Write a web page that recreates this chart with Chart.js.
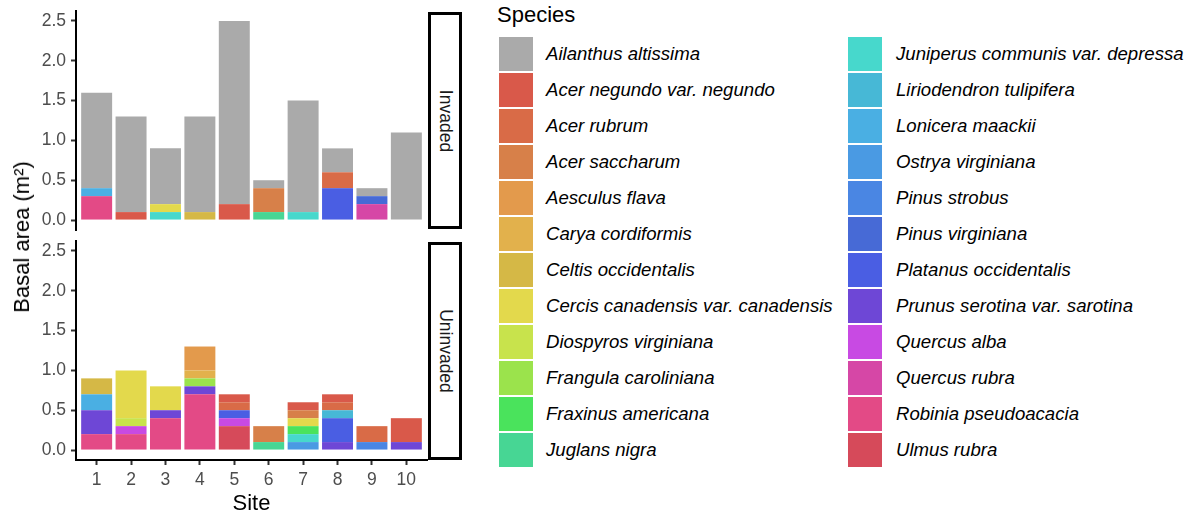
<!DOCTYPE html>
<html>
<head>
<meta charset="utf-8">
<script src="https://cdn.jsdelivr.net/npm/chart.js@4.4.1/dist/chart.umd.min.js"></script>
<style>
  body { margin: 0; background: #fff; width: 1193px; height: 518px; position: relative; overflow: hidden;
         font-family: "Liberation Sans", Arial, sans-serif; }
  canvas { position: absolute; left: 0; }
  #top { top: -5px; }
  #bottom { top: 225px; }
  .strip { position: absolute; left: 428px; width: 28px; border: 3px solid #000; background: #fff; }
  .strip span { position: absolute; left: 50%; top: 50%; transform: translate(-50%, -50%) rotate(90deg);
                font-size: 17.5px; color: #1a1a1a; white-space: nowrap; }
  #ytitle { position: absolute; left: 22px; top: 237px; transform: translate(-50%, -50%) rotate(-90deg);
            font-size: 22px; color: #000; white-space: nowrap; }
  #legend { position: absolute; left: 0; top: 0; }
  #legend .ttl { position: absolute; left: 497px; top: 2px; font-size: 22px; color: #000; }
  #legend .key { position: absolute; width: 34px; height: 34px; }
  #legend .lab { position: absolute; font-size: 18.6px; font-style: italic; color: #000; white-space: nowrap;
                 line-height: 34px; }
</style>
</head>
<body>
<canvas id="top" width="428" height="251"></canvas>
<canvas id="bottom" width="428" height="293"></canvas>
<div class="strip" style="top:12px;height:211px"><span>Invaded</span></div>
<div class="strip" style="top:242px;height:212px"><span>Uninvaded</span></div>
<div id="ytitle">Basal area (m²)</div>
<div id="legend"><div class="ttl">Species</div></div>

<script>
const sites = [1, 2, 3, 4, 5, 6, 7, 8, 9, 10]
const yTicks = [0, 0.5, 1, 1.5, 2, 2.5]

const species = [
  'Ailanthus altissima', 'Acer negundo var. negundo', 'Acer rubrum', 'Acer saccharum',
  'Aesculus flava', 'Carya cordiformis', 'Celtis occidentalis', 'Cercis canadensis var. canadensis',
  'Diospyros virginiana', 'Frangula caroliniana', 'Fraxinus americana', 'Juglans nigra',
  'Juniperus communis var. depressa', 'Liriodendron tulipifera', 'Lonicera maackii', 'Ostrya virginiana',
  'Pinus strobus', 'Pinus virginiana', 'Platanus occidentalis', 'Prunus serotina var. sarotina',
  'Quercus alba', 'Quercus rubra', 'Robinia pseudoacacia', 'Ulmus rubra'
]

const speciesColors = [
  '#aaaaaa', '#d9594a', '#d96b47', '#d78049',
  '#e39a4c', '#e2b14c', '#d5b846', '#e3d94c',
  '#c8e34c', '#9be34c', '#4ae35c', '#47d694',
  '#47d8cc', '#47b8d6', '#4aafe3', '#4a9ae3',
  '#4a86e3', '#476ad6', '#4a5ee3', '#6e47d6',
  '#c84ae3', '#d647a6', '#e34a86', '#d64a5a'
]

// basal area per species (rows, same order as species) and site (columns)
const invaded = [
  [1.2, 1.2, 0.7, 1.2, 2.3, 0.1, 1.4, 0.3, 0.1, 1.1], // Ailanthus altissima
  [0, 0.1, 0, 0, 0.2, 0, 0, 0, 0, 0],
  [0, 0, 0, 0, 0, 0, 0, 0.2, 0, 0],
  [0, 0, 0, 0, 0, 0.3, 0, 0, 0, 0],
  [0, 0, 0, 0, 0, 0, 0, 0, 0, 0],
  [0, 0, 0, 0, 0, 0, 0, 0, 0, 0],
  [0, 0, 0, 0.1, 0, 0, 0, 0, 0, 0],   // Celtis
  [0, 0, 0.1, 0, 0, 0, 0, 0, 0, 0],   // Cercis
  [0, 0, 0, 0, 0, 0, 0, 0, 0, 0],
  [0, 0, 0, 0, 0, 0, 0, 0, 0, 0],
  [0, 0, 0, 0, 0, 0, 0, 0, 0, 0],
  [0, 0, 0, 0, 0, 0.1, 0, 0, 0, 0],   // Juglans
  [0, 0, 0.1, 0, 0, 0, 0.1, 0, 0, 0], // Juniperus
  [0, 0, 0, 0, 0, 0, 0, 0, 0, 0],
  [0.1, 0, 0, 0, 0, 0, 0, 0, 0, 0],   // Lonicera
  [0, 0, 0, 0, 0, 0, 0, 0, 0, 0],
  [0, 0, 0, 0, 0, 0, 0, 0, 0, 0],
  [0, 0, 0, 0, 0, 0, 0, 0, 0.1, 0],   // Pinus virginiana
  [0, 0, 0, 0, 0, 0, 0, 0.4, 0, 0],   // Platanus
  [0, 0, 0, 0, 0, 0, 0, 0, 0, 0],
  [0, 0, 0, 0, 0, 0, 0, 0, 0, 0],
  [0, 0, 0, 0, 0, 0, 0, 0, 0.2, 0],   // Quercus rubra
  [0.3, 0, 0, 0, 0, 0, 0, 0, 0, 0],   // Robinia
  [0, 0, 0, 0, 0, 0, 0, 0, 0, 0]
]

const uninvaded = [
  [0, 0, 0, 0, 0, 0, 0, 0, 0, 0],
  [0, 0, 0, 0, 0.1, 0, 0.1, 0.1, 0, 0.3],   // Acer negundo
  [0, 0, 0, 0, 0.1, 0, 0, 0.1, 0.2, 0],     // Acer rubrum
  [0, 0, 0, 0, 0, 0.2, 0.1, 0, 0, 0],       // Acer saccharum
  [0, 0, 0, 0.3, 0, 0, 0, 0, 0, 0],         // Aesculus
  [0, 0, 0, 0.1, 0, 0, 0, 0, 0, 0],         // Carya
  [0.2, 0, 0, 0, 0, 0, 0, 0, 0, 0],         // Celtis
  [0, 0.6, 0.3, 0, 0, 0, 0.1, 0, 0, 0],     // Cercis
  [0, 0.1, 0, 0, 0, 0, 0, 0, 0, 0],         // Diospyros
  [0, 0, 0, 0.1, 0, 0, 0, 0, 0, 0],         // Frangula
  [0, 0, 0, 0, 0, 0, 0.1, 0, 0, 0],         // Fraxinus
  [0, 0, 0, 0, 0, 0.1, 0, 0, 0, 0],         // Juglans
  [0, 0, 0, 0, 0, 0, 0.1, 0, 0, 0],         // Juniperus
  [0, 0, 0, 0, 0, 0, 0, 0.1, 0, 0],         // Liriodendron
  [0.2, 0, 0, 0, 0, 0, 0, 0, 0, 0],         // Lonicera
  [0, 0, 0, 0, 0, 0, 0.1, 0, 0, 0],         // Ostrya
  [0, 0, 0, 0, 0, 0, 0, 0, 0.1, 0],         // Pinus strobus
  [0, 0, 0, 0, 0, 0, 0, 0, 0, 0],
  [0, 0, 0, 0, 0.1, 0, 0, 0.3, 0, 0],       // Platanus
  [0.3, 0, 0.1, 0.1, 0, 0, 0, 0.1, 0, 0.1], // Prunus
  [0, 0.1, 0, 0, 0.1, 0, 0, 0, 0, 0],       // Quercus alba
  [0, 0, 0, 0, 0, 0, 0, 0, 0, 0],
  [0.2, 0.2, 0.4, 0.7, 0, 0, 0, 0, 0, 0],   // Robinia
  [0, 0, 0, 0, 0.3, 0, 0, 0, 0, 0]          // Ulmus rubra
]

Chart.defaults.font.family = '"Liberation Sans", Arial, sans-serif'

function panel(id, rows, showX) {

  // last species sits at the bottom of each stack, as in ggplot
  let datasets = species.map(function (name, i) {
    return {
      label: name,
      data: sites.map(function (s, j) { return { x: s, y: rows[i][j] } }),
      backgroundColor: speciesColors[i],
      borderWidth: 0,
      barPercentage: 0.9,
      categoryPercentage: 1
    }
  }).reverse()

  return new Chart(document.getElementById(id), {
    type: 'bar',
    data: { datasets: datasets },
    options: {
      responsive: false,
      animation: false,
      layout: { padding: showX ? { top: 16, right: 1, bottom: 0 } : { top: 16, right: 1, bottom: 16 } },
      plugins: { legend: { display: false }, tooltip: { enabled: false } },
      scales: {
        x: {
          type: 'linear',
          stacked: true,
          offset: false,
          min: 0.4,
          max: 10.6,
          display: showX,
          afterBuildTicks: function (s) { s.ticks = sites.map(function (v) { return { value: v } }) },
          afterFit: function (s) { if (showX) s.height = 58 },
          grid: { offset: false, drawOnChartArea: false, tickLength: 5, tickWidth: 2, tickColor: '#333' },
          border: { display: true, color: '#000', width: 2 },
          ticks: { padding: 5, color: '#4d4d4d', font: { size: 17.5 }, maxRotation: 0, autoSkip: false },
          title: { display: true, text: 'Site', color: '#000', font: { size: 22 }, padding: { top: 0, bottom: 1 } }
        },
        y: {
          stacked: true,
          min: -0.125,
          max: 2.625,
          afterBuildTicks: function (s) { s.ticks = yTicks.map(function (v) { return { value: v } }) },
          afterFit: function (s) { s.width = 76 },
          grid: { drawOnChartArea: false, tickLength: 5, tickWidth: 2, tickColor: '#333' },
          border: { display: true, color: '#000', width: 2 },
          ticks: {
            padding: 5, color: '#4d4d4d', font: { size: 17.5 },
            callback: function (v) { return v.toFixed(1) }
          }
        }
      }
    }
  })
}

panel('top', invaded, false)
panel('bottom', uninvaded, true)

// legend, two columns of twelve
const legend = document.getElementById('legend')
species.forEach(function (name, i) {
  let col = Math.floor(i / 12)
  let row = i % 12
  let key = document.createElement('div')
  key.className = 'key'
  key.style.left = (col ? 848 : 499) + 'px'
  key.style.top = (37 + row * 36) + 'px'
  key.style.background = speciesColors[i]
  legend.appendChild(key)
  let lab = document.createElement('div')
  lab.className = 'lab'
  lab.textContent = name
  lab.style.left = (col ? 896 : 546) + 'px'
  lab.style.top = (37 + row * 36) + 'px'
  legend.appendChild(lab)
})
</script>
</body>
</html>
